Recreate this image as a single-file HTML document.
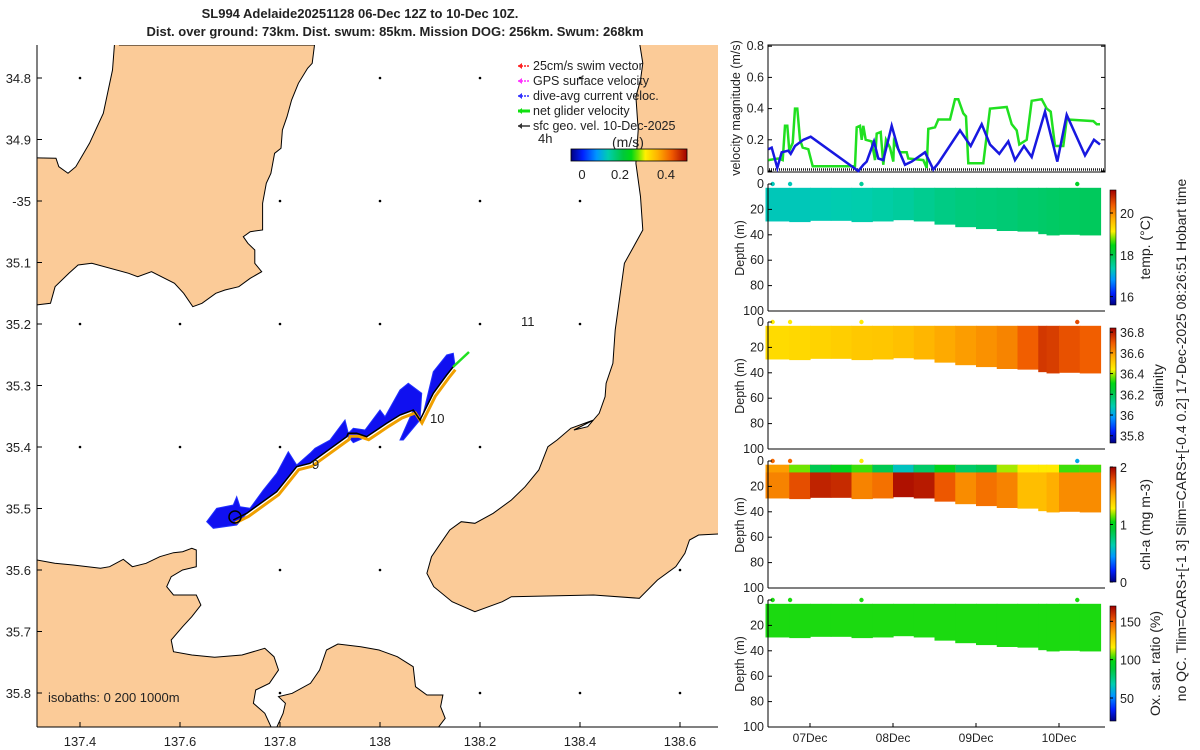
<!DOCTYPE html>
<html><head><meta charset="utf-8"><style>
html,body{margin:0;padding:0;background:#fff;}
svg{display:block;font-family:"Liberation Sans",sans-serif;}
text{fill:#222;}
</style></head><body>
<svg id="fig" width="1200" height="750" viewBox="0 0 1200 750">
<defs>
<linearGradient id="jetH" x1="0" x2="1" y1="0" y2="0"></linearGradient>
<linearGradient id="jetV" x1="0" x2="0" y1="1" y2="0"></linearGradient>
<clipPath id="mapclip"><rect x="37" y="45" width="681" height="682"/></clipPath>
</defs>
<text x="360" y="18" font-size="13" font-weight="bold" text-anchor="middle">SL994 Adelaide20251128 06-Dec 12Z to 10-Dec 10Z.</text>
<text x="395" y="36" font-size="13" font-weight="bold" text-anchor="middle">Dist. over ground: 73km. Dist. swum: 85km. Mission DOG: 256km. Swum: 268km</text>
<g id="map"></g>
<g id="vel"></g>
<g id="sections"></g>
<text transform="translate(1186,440) rotate(-90)" font-size="14" text-anchor="middle">no QC. Tlim=CARS+[-1 3] Slim=CARS+[-0.4 0.2] 17-Dec-2025 08:26:51 Hobart time</text>
</svg>
<script>
const NS="http://www.w3.org/2000/svg";
function mk(tag,attrs,parent){const e=document.createElementNS(NS,tag);for(const k in attrs)e.setAttribute(k,attrs[k]);parent.appendChild(e);return e;}
const cmapStops=[[0,[0,0,128]],[0.1,[0,32,255]],[0.22,[0,150,255]],[0.32,[0,205,175]],[0.45,[0,200,60]],[0.52,[0,215,20]],[0.58,[120,230,0]],[0.64,[255,240,0]],[0.75,[255,175,0]],[0.87,[240,90,0]],[1,[160,0,0]]];
function jet(v){v=Math.max(0,Math.min(1,v));for(let i=0;i<cmapStops.length-1;i++){const a=cmapStops[i],b=cmapStops[i+1];if(v<=b[0]){const f=(v-a[0])/(b[0]-a[0]);return `rgb(${a[1].map((c,k)=>Math.round(c+(b[1][k]-c)*f)).join(',')})`;}}return 'rgb(160,0,0)';}
['jetH','jetV'].forEach(id=>{const gr=document.getElementById(id);cmapStops.forEach(s=>mk('stop',{offset:s[0],'stop-color':`rgb(${s[1].join(',')})`},gr));});

/* ---------- MAP ---------- */
const lonTicks=[137.4,137.6,137.8,138,138.2,138.4,138.6];
const latTicks=[34.8,34.9,35,35.1,35.2,35.3,35.4,35.5,35.6,35.7,35.8];
const latLabels=["34.8","34.9","-35","35.1","35.2","35.3","35.4","35.5","35.6","35.7","35.8"];
const lonX=l=>80+(l-137.4)*500;
const latY=l=>78+(l-34.8)*615;
const map=document.getElementById('map');
const mg=mk('g',{'clip-path':'url(#mapclip)'},map);
[34.8,35.0,35.2,35.4,35.6,35.8].forEach(la=>lonTicks.forEach(lo=>{const d=mk('circle',{cx:lonX(lo),cy:latY(la),r:1.3,fill:'#000'},mg);

}));
function pathZ(pts,sx,sy,ox,oy){return 'M'+pts.map(p=>(ox+p[0]/sx).toFixed(1)+','+(oy+p[1]/sy).toFixed(1)).join('L')+'Z';}
const landStyle={fill:'#fbcb98',stroke:'#000','stroke-width':1};
const topLeft=[[260,45],[685,45],[680,100],[670,115],[650,160],[635,210],[625,260],[615,300],[612,355],[598,370],[590,430],[580,460],[572,520],[572,600],[545,605],[530,620],[540,640],[555,660],[555,700],[570,725],[545,745],[520,770],[490,780],[470,790],[440,820],[420,830],[400,790],[380,760],[330,725],[300,740],[280,730],[200,700],[170,705],[150,730],[120,770],[110,820],[60,828],[60,383],[122,385],[128,410],[148,430],[165,410],[195,340],[225,250],[245,120],[250,30]];
let p=mk('path',Object.assign({d:pathZ(topLeft,2.178,3,0,30)},landStyle),mg);


const rightA=[[1392,30],[1400,100],[1395,150],[1385,200],[1390,300],[1385,400],[1395,500],[1400,600],[1380,650],[1360,700],[1350,800],[1340,900],[1335,1000],[1320,1060],[1318,1100],[1305,1150],[1280,1190],[1250,1200]].map(q=>[q[0]/2.178,30+q[1]/3]);
const rightB=[[1300,0],[1250,25],[1220,60],[1200,80],[1180,150],[1150,200],[1120,240],[1080,280],[1040,310],[1010,305],[985,330],[965,370],[945,410],[935,460],[950,500],[990,545],[1040,575],[1100,545],[1120,530],[1300,525],[1400,535],[1440,480],[1480,440],[1500,400],[1510,360],[1530,345],[1600,340]].map(q=>[q[0]/2.19,420+q[1]/3]);
const rightPts=rightA.concat(rightB).concat([[740,532],[740,30]]);
p=mk('path',Object.assign({d:'M'+rightPts.map(q=>q[0].toFixed(1)+','+q[1].toFixed(1)).join('L')+'Z'},landStyle),mg);


const botLeft=[[60,415],[120,430],[160,435],[220,445],[240,440],[270,418],[290,440],[320,430],[350,410],[380,398],[400,395],[420,385],[430,390],[430,440],[400,450],[375,470],[365,500],[380,525],[430,525],[440,555],[420,590],[400,620],[375,660],[380,695],[420,705],[470,712],[530,705],[580,685],[600,710],[610,750],[590,790],[560,810],[555,850],[580,880],[600,940],[60,940]];
p=mk('path',Object.assign({d:pathZ(botLeft,2.19,3,0,420)},landStyle),mg);


const botMid=[[600,940],[620,880],[625,850],[610,830],[640,820],[680,790],[700,750],[715,690],[740,672],[790,680],[830,690],[870,710],[905,740],[910,800],[935,825],[970,825],[965,860],[975,895],[950,940]];
p=mk('path',Object.assign({d:pathZ(botMid,2.19,3,0,420)},landStyle),mg);


const blue=[[20,545],[50,505],[100,495],[110,470],[120,500],[150,505],[190,450],[230,400],[265,335],[290,375],[330,340],[345,325],[390,300],[435,240],[445,280],[460,265],[495,270],[540,210],[555,230],[600,150],[625,130],[665,160],[660,240],[670,220],[700,95],[740,45],[760,40],[765,75],[740,105],[700,160],[660,240],[610,300],[600,300],[640,210],[600,225],[560,250],[500,290],[460,308],[445,290],[440,290],[330,370],[290,380],[230,455],[140,520],[110,555],[40,565]];
p=mk('path',{d:pathZ(blue,3,3,200,340),fill:'#1010f0',stroke:'#2030ff','stroke-width':1},mg);


const track=[[100,540],[140,520],[230,455],[290,380],[330,370],[440,290],[445,280],[470,280],[500,290],[560,250],[600,225],[640,210],[660,240],[700,160],[740,105],[760,80]];
const tpts=track.map(q=>(200+q[0]/3).toFixed(1)+','+(340+q[1]/3).toFixed(1));
p=mk('polyline',{points:track.map(q=>(202+q[0]/3).toFixed(1)+','+(343+q[1]/3).toFixed(1)).join(' '),fill:'none',stroke:'#f0a000','stroke-width':3},mg);


p=mk('polyline',{points:tpts.join(' '),fill:'none',stroke:'#000','stroke-width':1.5},mg);


p=mk('line',{x1:453,y1:367,x2:469,y2:352,stroke:'#20e020','stroke-width':2.5},mg);


p=mk('circle',{cx:235,cy:517,r:6,fill:'none',stroke:'#000','stroke-width':1.5},mg);


mk('line',{x1:37,y1:45,x2:37,y2:727,stroke:'#000'},map);
mk('line',{x1:37,y1:727,x2:718,y2:727,stroke:'#000'},map);
lonTicks.forEach(l=>{mk('line',{x1:lonX(l),y1:727,x2:lonX(l),y2:722,stroke:'#000'},map);
const t=mk('text',{x:lonX(l),y:746,'font-size':13,'text-anchor':'middle'},map);t.textContent=String(l);

});
latTicks.forEach((l,i)=>{mk('line',{x1:37,y1:latY(l),x2:42,y2:latY(l),stroke:'#000'},map);
const t=mk('text',{x:31,y:latY(l)+5,'font-size':13,'text-anchor':'end'},map);t.textContent=latLabels[i];

});
function txt(x,y,s,size,name,anchor){const t=mk('text',{x:x,y:y,'font-size':size,'text-anchor':anchor||'start'},map);t.textContent=s;

return t;}
txt(48,702,'isobaths: 0   200  1000m',13,'isobaths-label');
txt(521,326,'11',13,'day-label-11');txt(430,423,'10',13,'day-label-10');txt(312,469,'9',13,'day-label-9');
const legNames=['25cm/s swim vector','GPS surface velocity','dive-avg current veloc.','net glider velocity','sfc geo. vel. 10-Dec-2025'];
const legCols=['#ff2020','#ff30ff','#3030ff','#10e010','#333'];
legNames.forEach((n,i)=>{const y=62+i*15;mk('line',{x1:518,y1:y+4,x2:530,y2:y+4,stroke:legCols[i],'stroke-width':i==3?3:1.5,'stroke-dasharray':i<3?'2,1':'none'},map);
mk('path',{d:`M518,${y+4}l4,-3v6z`,fill:legCols[i]},map);
txt(533,y+8,n,12.5,'legend-entry');});
txt(538,143,'4h',13,'legend-4h');txt(612,147,'(m/s)',14,'colorbar-unit');
p=mk('rect',{x:571,y:149,width:116,height:12,fill:'url(#jetH)',stroke:'#000','stroke-width':0.8},map);


[[582,'0'],[620,'0.2'],[666,'0.4']].forEach(a=>{txt(a[0],179,a[1],13,'colorbar-tick','middle');});

/* ---------- VELOCITY PLOT ---------- */
const vel=document.getElementById('vel');
const tx=t=>727+83*t;
const vy=v=>171-v*156;
const velTicks=[0,0.2,0.4,0.6,0.8];
const blueZX=[145,155,172,185,205,212,225,250,272,415,430,440,462,475,490,515,535,555,575,615,640,655,720,752,785,810,838,865,885,912,935,975,1012,1040,1095,1122,1140];
const blueV=[0.14,0.15,0.02,0.12,0.13,0.11,0.16,0.2,0.22,0.0,0.04,0.06,0.19,0.08,0.07,0.29,0.14,0.04,0.06,0.12,0.01,0.05,0.26,0.16,0.3,0.17,0.11,0.19,0.07,0.16,0.09,0.38,0.06,0.36,0.1,0.2,0.17];
const greenZX=[145,175,188,195,202,208,218,225,232,240,248,265,278,405,410,420,425,430,437,455,465,470,482,490,498,510,520,522,540,560,565,610,620,625,645,655,690,705,715,730,738,745,790,810,860,875,890,898,920,935,965,980,992,1005,1030,1040,1120,1130,1140];
const greenV=[0.07,0.08,0.07,0.29,0.29,0.13,0.18,0.4,0.4,0.2,0.15,0.14,0.03,0.03,0.28,0.29,0.2,0.29,0.2,0.19,0.07,0.24,0.25,0.04,0.2,0.15,0.06,0.19,0.12,0.12,0.08,0.07,0.02,0.27,0.28,0.33,0.33,0.46,0.46,0.37,0.35,0.05,0.05,0.4,0.41,0.3,0.26,0.17,0.2,0.45,0.46,0.4,0.38,0.16,0.16,0.33,0.32,0.3,0.3];
const zt=zx=>((720+zx/3)-727)/83;
const blueT=blueZX.map(zt), greenT=greenZX.map(zt);
const geoV=0.01;
mk('rect',{x:768,y:45,width:337,height:127,fill:'#fff',stroke:'#000'},vel);
let l=mk('polyline',{points:greenT.map((t,i)=>tx(t).toFixed(1)+','+vy(greenV[i]).toFixed(1)).join(' '),fill:'none',stroke:'#20e020','stroke-width':2.5},vel);


l=mk('line',{x1:769,y1:vy(geoV),x2:1104,y2:vy(geoV),stroke:'#222','stroke-width':2.5,'stroke-dasharray':'1,1'},vel);


l=mk('polyline',{points:blueT.map((t,i)=>tx(t).toFixed(1)+','+vy(blueV[i]).toFixed(1)).join(' '),fill:'none',stroke:'#1818e0','stroke-width':2.5},vel);


velTicks.forEach(v=>{mk('line',{x1:768,y1:vy(v),x2:772,y2:vy(v),stroke:'#000'},vel);mk('line',{x1:1101,y1:vy(v),x2:1105,y2:vy(v),stroke:'#000'},vel);
const t=mk('text',{x:764,y:vy(v)+4,'font-size':12.5,'text-anchor':'end'},vel);t.textContent=String(v);

});
let yt=mk('text',{transform:'translate(740,108) rotate(-90)','font-size':12.5,'text-anchor':'middle'},vel);yt.textContent='velocity magnitude (m/s)';



/* ---------- SECTIONS ---------- */
const sec=document.getElementById('sections');
const secT=[0.5,0.75,1.0,1.25,1.5,1.75,2.0,2.25,2.5,2.75,3.0,3.25,3.5,3.75,3.85,4.0,4.25,4.5];
const bottomDepth=[28,31,29,29,29,31,28,29,30,34,34,37,37,38,41,40,40,41];
const tempVals=[17.3,17.3,17.3,17.35,17.35,17.4,17.45,17.5,17.6,17.65,17.7,17.7,17.75,17.8,17.8,17.85,17.85,17.9];
const salVals=[36.48,36.48,36.49,36.5,36.51,36.52,36.52,36.54,36.56,36.58,36.6,36.62,36.64,36.74,36.76,36.72,36.7,36.68];
const chlDeep=[1.6,1.65,1.9,1.9,1.85,1.4,1.95,1.95,1.9,1.6,1.6,1.75,1.5,1.4,1.5,1.5,1.7,1.5];
const chlSurf=[1.6,1.5,0.8,0.9,1.1,1.1,0.6,0.6,1.0,1.0,0.6,1.1,1.3,1.3,1.3,1.3,0.9,1.3];
const oxVals=[100,100,100,100,100,100,100,100,100,100,100,100,100,100,100,100,100,100];
const dotT=[0.55,0.76,1.62,4.22];
const panels=[
 {top:184,name:'temperature',vals:tempVals,min:15.6,max:21.1,ticks:[16,18,20],labels:['16','18','20'],title:'temp. (°C)',tx:1150,dots:[17.3,17.3,17.5,18.3]},
 {top:322,name:'salinity',vals:salVals,min:35.73,max:36.84,ticks:[35.8,36,36.2,36.4,36.6,36.8],labels:['35.8','36','36.2','36.4','36.6','36.8'],title:'salinity',tx:1163,dots:[36.45,36.45,36.45,36.72]},
 {top:461,name:'chlorophyll',vals:chlDeep,surf:chlSurf,min:0,max:2,ticks:[0,1,2],labels:['0','1','2'],title:'chl-a (mg m-3)',tx:1150,dots:[1.7,1.7,1.3,0.5]},
 {top:600,name:'oxygen',vals:oxVals,min:20,max:170,ticks:[50,100,150],labels:['50','100','150'],title:'Ox. sat. ratio (%)',tx:1160,dots:[100,100,100,100]}];
const depthTicks=[0,20,40,60,80,100];
panels.forEach((P,pi)=>{
 const g=mk('g',{},sec);
 
 
 const dy=d=>P.top+d*1.27;
 const norm=v=>(v-P.min)/(P.max-P.min);
 for(let i=0;i<secT.length-1;i++){
  const x0=tx(secT[i])-(i==0?3:0), x1=tx(secT[i+1])+0.6;
  const bd=(bottomDepth[i]+bottomDepth[i+1])/2;
  const r=mk('rect',{x:x0,y:dy(3),width:x1-x0,height:dy(bd)-dy(3),fill:jet(norm((P.vals[i]+P.vals[i+1])/2))},g);
  
  
  if(P.surf){const s=mk('rect',{x:x0,y:dy(3),width:x1-x0,height:dy(9)-dy(3),fill:jet(norm((P.surf[i]+P.surf[i+1])/2))},g);
  
  }
 }
 dotT.forEach((t,i)=>{const c=mk('circle',{cx:tx(t),cy:P.top,r:2.2,fill:jet(norm(P.dots[i]))},g);
 
 });
 mk('line',{x1:768,y1:P.top,x2:768,y2:P.top+127,stroke:'#000'},g);
 mk('line',{x1:768,y1:P.top+127,x2:1105,y2:P.top+127,stroke:'#000'},g);
 depthTicks.forEach(d=>{mk('line',{x1:768,y1:dy(d),x2:772,y2:dy(d),stroke:'#000'},g);
  const t=mk('text',{x:764,y:dy(d)+4,'font-size':12.5,'text-anchor':'end'},g);t.textContent=String(d);
  
  });
 const yl=mk('text',{transform:`translate(744,${P.top+64}) rotate(-90)`,'font-size':12.5,'text-anchor':'middle'},g);yl.textContent='Depth (m)';
 
 
 const cbTop=P.top+6, cbH=115;
 const cb=mk('rect',{x:1110,y:cbTop,width:6,height:cbH,fill:'url(#jetV)',stroke:'#000','stroke-width':0.6},g);
 
 
 P.ticks.forEach((v,i)=>{const y=cbTop+cbH*(1-norm(v));mk('line',{x1:1110,y1:y,x2:1113,y2:y,stroke:'#000'},g);
  const t=mk('text',{x:1120,y:y+5,'font-size':12.5},g);t.textContent=P.labels[i];
  
  });
 const ct=mk('text',{transform:`translate(${P.tx},${cbTop+cbH/2}) rotate(-90)`,'font-size':14,'text-anchor':'middle'},g);ct.textContent=P.title;
 
 
});
const dateLabels=['07Dec','08Dec','09Dec','10Dec'];
dateLabels.forEach((s,i)=>{const x=tx(i+1);mk('line',{x1:x,y1:727,x2:x,y2:723,stroke:'#000'},sec);
 const t=mk('text',{x:x,y:742,'font-size':12,'text-anchor':'middle'},sec);t.textContent=s;
 
 });
</script>
</body></html>
